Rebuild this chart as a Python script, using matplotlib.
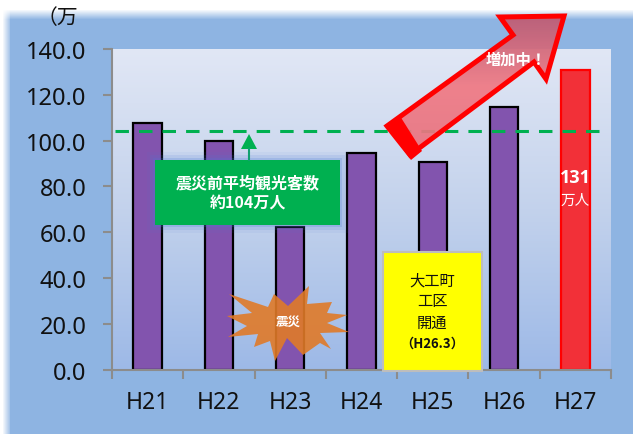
import numpy as np
import matplotlib
matplotlib.use("Agg")
import matplotlib.pyplot as plt
from matplotlib.colors import LinearSegmentedColormap
from matplotlib.patches import Polygon, Rectangle

plt.rcParams["font.family"] = ["Noto Sans", "Noto Sans CJK JP", "DejaVu Sans"]
JP = ["Noto Sans CJK JP", "DejaVu Sans"]

# Chart data
years = ["H21", "H22", "H23", "H24", "H25", "H26", "H27"]
visitors = [107.6, 100.0, 62.3, 94.5, 90.6, 114.5, 130.8]
average_before = 104.2
y_ticks = [0, 20, 40, 60, 80, 100, 120, 140]

W, H = 633, 435
fig = plt.figure(figsize=(W / 100, H / 100), dpi=100)


# Blue panel behind everything, fading to white at the top and left
bg = fig.add_axes([0, 0, 1, 1], zorder=0)
xx, yy = np.meshgrid(np.arange(W), np.arange(H))
fade = np.clip((xx - 2) / 8, 0, 1) * np.clip((yy - 10) / 10, 0, 1)
panel = np.array([0.557, 0.706, 0.890])
rgb = 1 - (1 - panel) * fade[..., None]
rgb = np.where(xx[..., None] < 10, np.maximum(rgb, 0.86 * rgb + 0.14), rgb)
bg.imshow(rgb, aspect="auto", extent=[0, W, H, 0])
bg.axis("off")

# Main plot
ax = fig.add_axes([112 / W, 1 - 370.5 / H, 499 / W, 320.5 / H], zorder=1)
grad = LinearSegmentedColormap.from_list("plot", ["#E1E7F5", "#C3D2EC", "#9DB9E7"])
ax.imshow(np.linspace(0, 1, 256).reshape(-1, 1), cmap=grad, aspect="auto",
          extent=[-0.5, 6.5, 0, 140], zorder=0)

pos = np.arange(len(years))
colors = ["#8254AE"] * 6 + ["#F23038"]
edges = ["black"] * 6 + ["#FF0000"]
ax.bar(pos, visitors, width=0.4, color=colors, edgecolor=edges, linewidth=1.6, zorder=2)
ax.plot([-0.46, 6.45], [average_before, average_before], color="#00B050", lw=2.2,
        dashes=(4.4, 3.3), zorder=3)

ax.set_xlim(-0.5, 6.5)
ax.set_ylim(0, 140)
ax.set_yticks(y_ticks, [f"{v:.1f}" for v in y_ticks])
ax.set_xticks(np.arange(-0.5, 7), [""] * 8)
ax.set_xticks(pos, years, minor=True)
ax.tick_params(axis="y", length=6.5, width=1.5, color="#8C8C8C", pad=12, labelsize=17, labelcolor="#111111")
ax.tick_params(axis="x", which="major", length=6.5, width=1.5, color="#8C8C8C")
ax.tick_params(axis="x", which="minor", length=0, pad=15, labelsize=16.5, labelcolor="#111111")
for side in ["top", "right"]:
    ax.spines[side].set_visible(False)
for side in ["left", "bottom"]:
    ax.spines[side].set_color("#8C8C8C")
    ax.spines[side].set_linewidth(1.5)

# Overlay in pixel coordinates for the call-outs
ov = fig.add_axes([0, 0, 1, 1], zorder=2)
ov.set_xlim(0, W)
ov.set_ylim(H, 0)
ov.axis("off")

ov.text(57, 18, "（万", family=JP, fontsize=15, ha="center", va="center", color="#111111")

# Green arrow and box
ov.add_patch(Polygon([(249, 135), (241, 150), (257, 150)], color="#00B050", lw=0))
ov.plot([249, 249], [150, 161], color="#10A070", lw=1.5)
for grow, alpha in [(8, 0.06), (5, 0.12), (2, 0.2)]:
    ov.add_patch(Rectangle((155 - grow, 161 - grow), 185 + 2 * grow, 65 + 2 * grow,
                           color="#4A78D8", alpha=alpha, lw=0))
ov.add_patch(Rectangle((155, 161), 185, 65, color="#00B050", lw=0))
ov.text(248, 183, "震災前平均観光客数", family=JP, fontsize=11.5, weight="bold", color="white",
        ha="center", va="center")
ov.text(248, 204, "約104万人", family=JP, fontsize=11.5, weight="bold", color="white",
        ha="center", va="center")

# Explosion mark
star = [(227, 317), (252, 314), (229, 295), (268, 308), (274, 295), (288, 307), (309, 287), (307, 305),
        (332, 303), (327, 314), (347, 316), (327, 324), (349, 333), (320, 334), (331, 350), (320, 344),
        (303, 356), (287, 339), (275, 362), (270, 342), (254, 348), (258, 335), (228, 338),
        (247, 327)]
ov.add_patch(Polygon(star, color="#E07A28", alpha=0.9, lw=0))
ov.text(288, 322, "震災", family=JP, fontsize=9, weight="bold", color="white", ha="center", va="center")

# Yellow note
ov.add_patch(Rectangle((383, 252.5), 99, 119, facecolor="#FFFF00", edgecolor="#BDBDBD", lw=1.5))
for y_pos, line in [(281, "大工町"), (302, "工区"), (323, "開通")]:
    ov.text(432, y_pos, line, family=JP, fontsize=11, color="#111111", ha="center", va="center")
ov.text(432, 344, "（H26.3）", family=JP, fontsize=9.5, weight="bold", color="#111111", ha="center", va="center")

# Big red arrow, translucent inside so the dashed line shows through
arrow = [(387, 127), (513, 36), (500, 18), (564, 17), (546, 80), (534, 63), (410, 156)]
arrow_cmap = LinearSegmentedColormap.from_list("arrow", ["#BC5A72", "#F07A84", "#E87480"])
arrow_poly = Polygon(arrow, transform=ov.transData, facecolor="none", edgecolor="none")
ov.add_patch(arrow_poly)
fill = ov.imshow(np.linspace(0, 1, 256).reshape(-1, 1), cmap=arrow_cmap, alpha=0.93, aspect="auto",
                 extent=[380, 570, 160, 15], origin="upper")
fill.set_clip_path(arrow_poly)
ov.set_xlim(0, W)
ov.set_ylim(H, 0)
ov.add_patch(Polygon(arrow, closed=True, facecolor="none", edgecolor="#FF0000", lw=3.6, joinstyle="miter"))
ov.add_patch(Polygon([(385, 126), (411, 161), (422, 152), (400, 117)], color="#FF0000", lw=0))
ov.text(516, 60, "増加中！", family=JP, fontsize=11, weight="bold", color="white", ha="center", va="center")

# Labels on the red bar
ov.text(575, 178, "131", family="Open Sans", fontsize=13, weight="bold", color="white", ha="center", va="center")
ov.text(575, 201, "万人", family=JP, fontsize=10.5, color="white", ha="center", va="center")

fig.savefig("out.png", dpi=100)
